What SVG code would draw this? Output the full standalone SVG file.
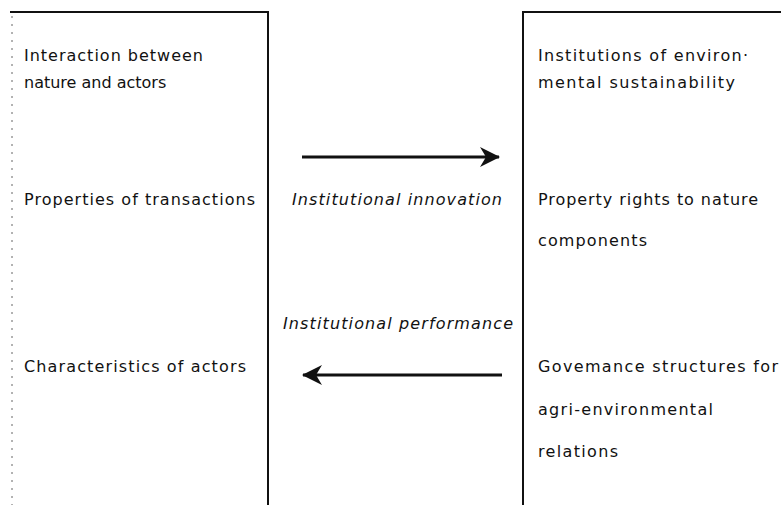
<svg xmlns="http://www.w3.org/2000/svg" width="781" height="505" viewBox="0 0 781 505">
<style>
.t{font-family:"DejaVu Sans","Open Sans",sans-serif;font-size:16px;fill:#111;}
.i{font-family:"DejaVu Sans","Open Sans",sans-serif;font-size:16px;font-style:italic;fill:#111;}
.b{stroke:#111;stroke-width:2;fill:none;}
.d{stroke:#666;stroke-width:1;stroke-dasharray:2 6;fill:none;}
.a{stroke:#111;stroke-width:3;fill:none;}
</style>
<defs>
<marker id="ah" markerUnits="userSpaceOnUse" markerWidth="20" markerHeight="22" viewBox="0 0 20 22" refX="19" refY="11" orient="auto">
<path d="M0,1 L20,11 L0,21 L6,11 Z" fill="#111"/>
</marker>
</defs>
<rect width="781" height="505" fill="#fff"/>
<g id="left-box">
<path class="b" d="M10,12 H268 V505"/>
<path class="d" d="M12,16 V505"/>
<text class="t" x="24" y="61" textLength="179" lengthAdjust="spacing">Interaction between</text>
<text class="t" x="24" y="88">nature and actors</text>
<text class="t" x="24" y="205" textLength="231" lengthAdjust="spacing">Properties of transactions</text>
<text class="t" x="24" y="372" textLength="222" lengthAdjust="spacing">Characteristics of actors</text>
</g>
<g id="right-box">
<path class="b" d="M781,12 H523 V505"/>
<text class="t" x="538" y="61" textLength="210" lengthAdjust="spacing">Institutions of environ·</text>
<text class="t" x="538" y="88" textLength="197" lengthAdjust="spacing">mental sustainability</text>
<text class="t" x="538" y="205" textLength="220" lengthAdjust="spacing">Property rights to nature</text>
<text class="t" x="538" y="246" textLength="109" lengthAdjust="spacing">components</text>
<text class="t" x="538" y="372" textLength="240" lengthAdjust="spacing">Govemance structures for</text>
<text class="t" x="538" y="415" textLength="175" lengthAdjust="spacing">agri-environmental</text>
<text class="t" x="538" y="457" textLength="80" lengthAdjust="spacing">relations</text>
</g>
<g id="connectors">
<line class="a" x1="302" y1="157" x2="499" y2="157" marker-end="url(#ah)"/>
<text class="i" x="292" y="205" textLength="210" lengthAdjust="spacing">Institutional innovation</text>
<text class="i" x="283" y="329" textLength="230" lengthAdjust="spacing">Institutional performance</text>
<line class="a" x1="502" y1="375" x2="303" y2="375" marker-end="url(#ah)"/>
</g>
</svg>
